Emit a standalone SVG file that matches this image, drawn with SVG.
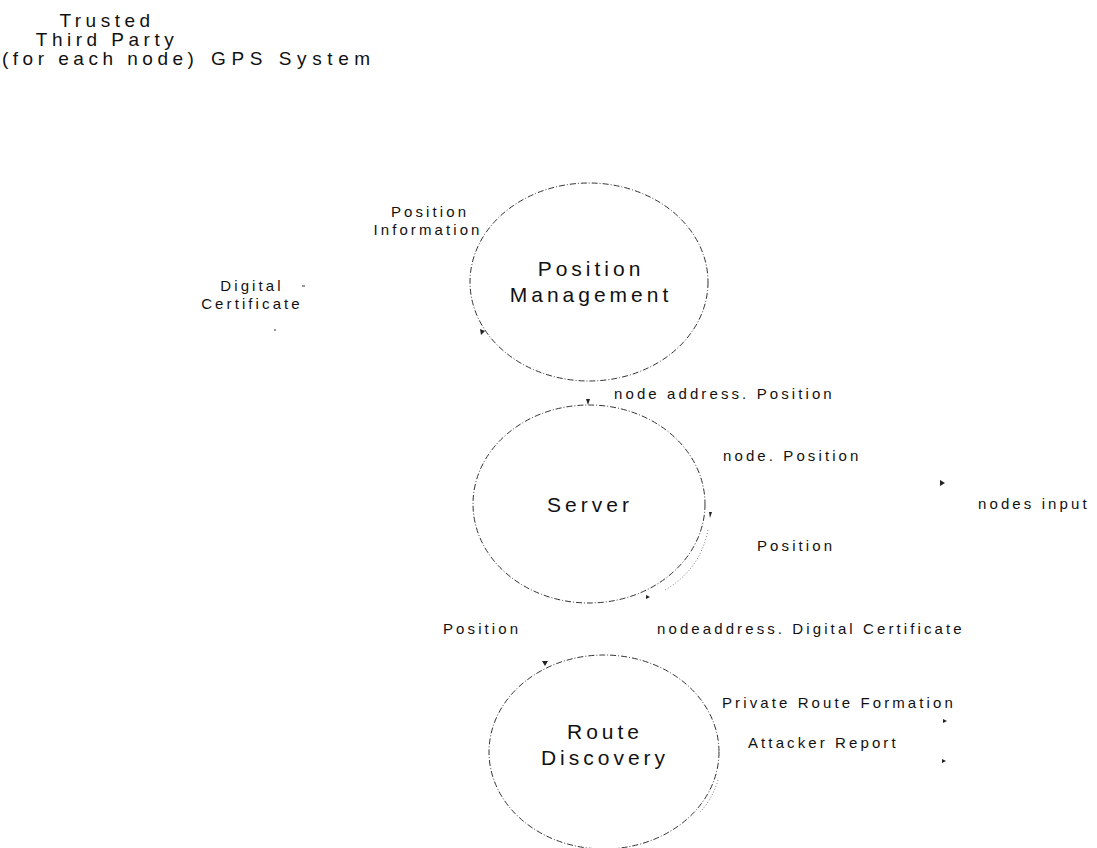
<svg xmlns="http://www.w3.org/2000/svg" width="1097" height="848" viewBox="0 0 1097 848">
<style>
text{font-family:"Liberation Sans",Arial,sans-serif;fill:#111;}
.lbl{font-size:15px;letter-spacing:3.1px;}
.big{font-size:21px;letter-spacing:4px;}
.hdr{font-size:19px;letter-spacing:4.5px;}
.proc{fill:none;stroke:#333;stroke-width:1;stroke-dasharray:6 2 1 2;}
.tick{fill:#222;}
.faint{fill:none;stroke:#555;stroke-width:0.8;stroke-dasharray:1 2;}
</style>
<rect width="1097" height="848" fill="#fff"/>
<g id="trusted-third-party">
<text class="hdr" x="107" y="27" text-anchor="middle">Trusted</text>
<text class="hdr" x="107" y="46" text-anchor="middle">Third Party</text>
<text class="hdr" x="2" y="65">(for each node)</text>
</g>
<g id="gps-system">
<text class="hdr" x="211" y="65" style="letter-spacing:5.6px">GPS System</text>
</g>
<g id="position-management">
<ellipse class="proc" cx="589" cy="282" rx="119" ry="99"/>
<text class="big" x="591" y="276" text-anchor="middle">Position</text>
<text class="big" x="591" y="302" text-anchor="middle">Management</text>
</g>
<g id="server">
<ellipse class="proc" cx="589" cy="504" rx="116" ry="99"/>
<text class="big" x="590" y="512" text-anchor="middle">Server</text>
</g>
<g id="route-discovery">
<ellipse class="proc" cx="604" cy="752" rx="115" ry="97"/>
<text class="big" x="605" y="739" text-anchor="middle">Route</text>
<text class="big" x="605" y="765" text-anchor="middle">Discovery</text>
</g>
<g id="connectors">
<path class="faint" d="M 708 530 Q 700 570 665 590"/>
<path class="faint" d="M 718 780 Q 712 800 700 812"/>
<polygon class="tick" points="480,329 485,331 481,335"/>
<polygon class="tick" points="586,399 590,399 588,405"/>
<polygon class="tick" points="940,480 945,483 940,486"/>
<polygon class="tick" points="709,512 712,512 710,518"/>
<polygon class="tick" points="646,595 650,597 646,599"/>
<polygon class="tick" points="542,661 548,661 545,666"/>
<polygon class="tick" points="943,719 947,721 943,723"/>
<polygon class="tick" points="942,759 946,761 942,763"/>
<line x1="302" y1="286" x2="305" y2="286" stroke="#333"/>
<line x1="274" y1="330" x2="276" y2="330" stroke="#333"/>
</g>
<g id="labels">
<text class="lbl" x="430" y="217" text-anchor="middle">Position</text>
<text class="lbl" x="428" y="235" text-anchor="middle">Information</text>
<text class="lbl" x="252" y="291" text-anchor="middle">Digital</text>
<text class="lbl" x="252" y="309" text-anchor="middle">Certificate</text>
<text class="lbl" x="614" y="399">node address. Position</text>
<text class="lbl" x="723" y="461">node. Position</text>
<text class="lbl" x="978" y="509">nodes input</text>
<text class="lbl" x="757" y="551">Position</text>
<text class="lbl" x="443" y="634">Position</text>
<text class="lbl" x="657" y="634">nodeaddress. Digital Certificate</text>
<text class="lbl" x="722" y="708">Private Route Formation</text>
<text class="lbl" x="748" y="748">Attacker Report</text>
</g>
</svg>
